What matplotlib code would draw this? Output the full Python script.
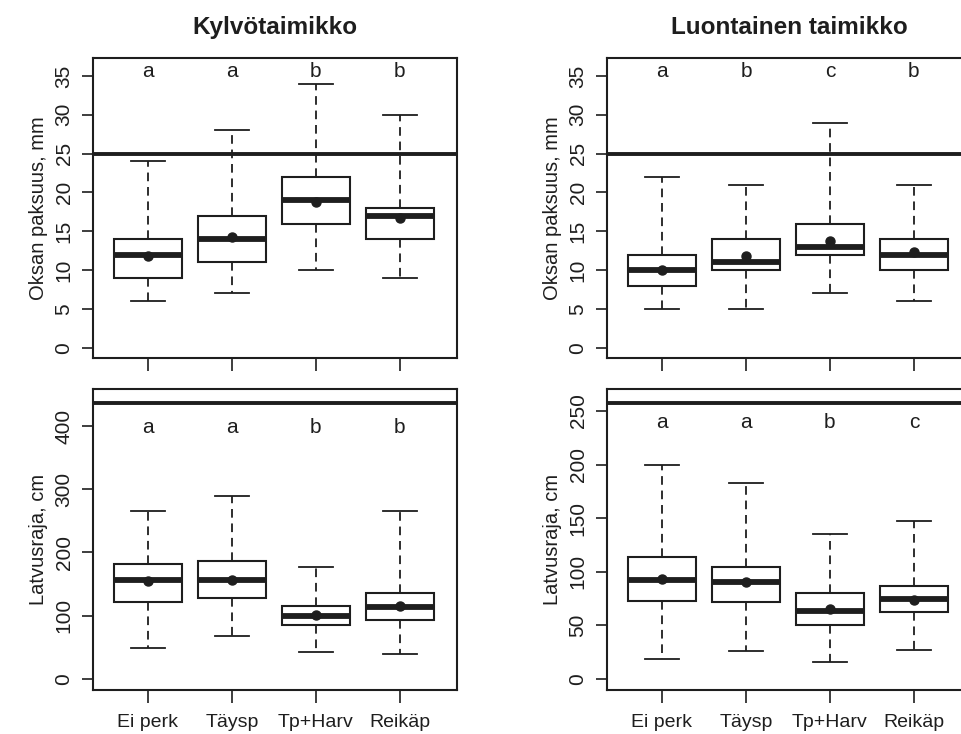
import matplotlib
matplotlib.use("Agg")
import matplotlib.pyplot as plt

# treatment groups
groups = ["Ei perk", "Täysp", "Tp+Harv", "Reikäp"]

# Oksan paksuus, Kylvötaimikko
oksa_kyl_min = [6, 7, 10, 9]
oksa_kyl_q1 = [9, 11, 16, 14]
oksa_kyl_med = [12, 14, 19, 17]
oksa_kyl_q3 = [14, 17, 22, 18]
oksa_kyl_max = [24, 28, 34, 30]
oksa_kyl_mean = [11.8, 14.3, 18.8, 16.7]
oksa_kyl_letters = ["a", "a", "b", "b"]

# Oksan paksuus, Luontainen taimikko
oksa_luo_min = [5, 5, 7, 6]
oksa_luo_q1 = [8, 10, 12, 10]
oksa_luo_med = [10, 11, 13, 12]
oksa_luo_q3 = [12, 14, 16, 14]
oksa_luo_max = [22, 21, 29, 21]
oksa_luo_mean = [10.0, 11.8, 13.8, 12.3]
oksa_luo_letters = ["a", "b", "c", "b"]

# Latvusraja, Kylvötaimikko
latvus_kyl_min = [49, 68, 42, 39]
latvus_kyl_q1 = [122, 128, 85, 93]
latvus_kyl_med = [157, 157, 100, 114]
latvus_kyl_q3 = [182, 187, 116, 136]
latvus_kyl_max = [266, 290, 177, 266]
latvus_kyl_mean = [155, 157, 101, 116]
latvus_kyl_letters = ["a", "a", "b", "b"]

# Latvusraja, Luontainen taimikko
latvus_luo_min = [19, 26, 16, 27]
latvus_luo_q1 = [73, 72, 50, 62]
latvus_luo_med = [92, 90, 63, 75]
latvus_luo_q3 = [114, 104, 80, 87]
latvus_luo_max = [200, 183, 135, 147]
latvus_luo_mean = [93, 90, 65, 74]
latvus_luo_letters = ["a", "a", "b", "c"]

# reference levels
oksa_ref = 25
latvus_kyl_ref = 436
latvus_luo_ref = 257

plt.rcParams["font.family"] = ["Liberation Sans", "DejaVu Sans"]
INK = "#1e1e1e"


def make_stats(lo, q1, med, q3, hi, mean):
    stats = []
    for i in range(len(lo)):
        stats.append({"whislo": lo[i], "q1": q1[i], "med": med[i], "q3": q3[i],
                      "whishi": hi[i], "mean": mean[i], "fliers": []})
    return stats


def draw_panel(ax, stats, letters, ref, ylim, yticks, letter_y, ylabel, title=None, show_names=False):
    ax.bxp(stats, positions=[1, 2, 3, 4], widths=0.81, capwidths=0.41,
           showmeans=True, patch_artist=True, manage_ticks=False,
           boxprops=dict(facecolor="white", edgecolor=INK, linewidth=1.5),
           medianprops=dict(color=INK, linewidth=4.2, solid_capstyle="butt"),
           whiskerprops=dict(color=INK, linewidth=1.3, linestyle=(0, (4.8, 3.2))),
           capprops=dict(color=INK, linewidth=1.3),
           meanprops=dict(marker="o", markerfacecolor=INK, markeredgecolor=INK, markersize=6.5))
    ax.axhline(ref, color=INK, linewidth=2.8, zorder=5)
    for i, lab in enumerate(letters):
        ax.text(i + 1, letter_y, lab, ha="center", va="center", fontsize=15, color=INK)
    ax.set_xlim(0.345, 4.68)
    ax.set_ylim(*ylim)
    ax.set_yticks(yticks)
    ax.set_yticklabels([str(t) for t in yticks], rotation=90, va="center", fontsize=15, color=INK)
    ax.set_xticks([1, 2, 3, 4])
    if show_names:
        ax.set_xticklabels(groups, fontsize=14, color=INK)
    else:
        ax.set_xticklabels([])
    ax.tick_params(axis="y", length=8, width=1.2, color=INK, pad=6)
    ax.tick_params(axis="x", length=9.5, width=1.2, color=INK, pad=8)
    for sp in ax.spines.values():
        sp.set_color(INK)
        sp.set_linewidth(1.5)
    ax.set_ylabel(ylabel, fontsize=14.5, color=INK, labelpad=5)
    if title:
        ax.set_title(title, fontsize=17.5, fontweight="bold", color=INK, pad=17)


fig = plt.figure(figsize=(9.62, 7.34), dpi=100)
w = 364 / 962
h = 300 / 734
ax1 = fig.add_axes([93 / 962, 1 - 358 / 734, w, h])
ax2 = fig.add_axes([607 / 962, 1 - 358 / 734, w, h])
ax3 = fig.add_axes([93 / 962, 1 - 690 / 734, w, 301 / 734])
ax4 = fig.add_axes([607 / 962, 1 - 690 / 734, w, 301 / 734])

draw_panel(ax1, make_stats(oksa_kyl_min, oksa_kyl_q1, oksa_kyl_med, oksa_kyl_q3, oksa_kyl_max, oksa_kyl_mean),
           oksa_kyl_letters, oksa_ref, (-1.3, 37.3), list(range(0, 36, 5)), 35.6,
           "Oksan paksuus, mm", title="Kylvötaimikko")
draw_panel(ax2, make_stats(oksa_luo_min, oksa_luo_q1, oksa_luo_med, oksa_luo_q3, oksa_luo_max, oksa_luo_mean),
           oksa_luo_letters, oksa_ref, (-1.3, 37.3), list(range(0, 36, 5)), 35.6,
           "Oksan paksuus, mm", title="Luontainen taimikko")
draw_panel(ax3, make_stats(latvus_kyl_min, latvus_kyl_q1, latvus_kyl_med, latvus_kyl_q3, latvus_kyl_max, latvus_kyl_mean),
           latvus_kyl_letters, latvus_kyl_ref, (-17.4, 458.5), list(range(0, 401, 100)), 397,
           "Latvusraja, cm", show_names=True)
draw_panel(ax4, make_stats(latvus_luo_min, latvus_luo_q1, latvus_luo_med, latvus_luo_q3, latvus_luo_max, latvus_luo_mean),
           latvus_luo_letters, latvus_luo_ref, (-10.3, 270.5), list(range(0, 251, 50)), 239,
           "Latvusraja, cm", show_names=True)

fig.savefig("out.png", dpi=100)
